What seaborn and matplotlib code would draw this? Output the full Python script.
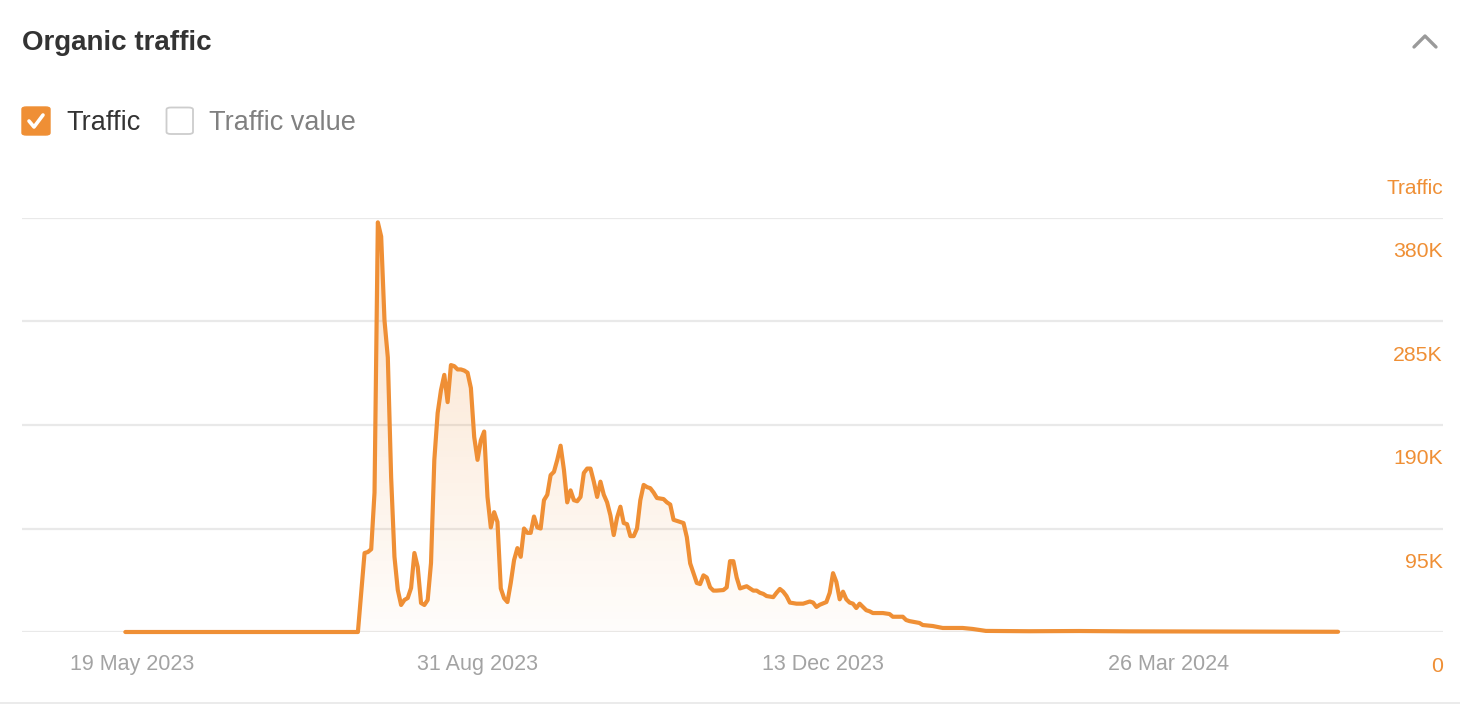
import numpy as np
import pandas as pd
import matplotlib
matplotlib.use("Agg")
import matplotlib.pyplot as plt
import matplotlib.dates as mdates
from matplotlib.patches import FancyBboxPatch
from matplotlib.lines import Line2D
from matplotlib.transforms import ScaledTranslation
import seaborn as sns

# --- data (traffic in thousands) ---
dates = [
    "2023-05-17", "2023-07-26", "2023-07-28", "2023-07-29", "2023-07-30", "2023-07-31",
    "2023-08-01", "2023-08-02", "2023-08-03", "2023-08-04", "2023-08-05", "2023-08-06",
    "2023-08-07", "2023-08-08", "2023-08-09", "2023-08-10", "2023-08-11", "2023-08-12",
    "2023-08-13", "2023-08-14", "2023-08-15", "2023-08-16", "2023-08-17", "2023-08-18",
    "2023-08-19", "2023-08-20", "2023-08-21", "2023-08-22", "2023-08-23", "2023-08-24",
    "2023-08-25", "2023-08-26", "2023-08-27", "2023-08-28", "2023-08-29", "2023-08-30",
    "2023-08-31", "2023-09-01", "2023-09-02", "2023-09-03", "2023-09-04", "2023-09-05",
    "2023-09-06", "2023-09-07", "2023-09-08", "2023-09-09", "2023-09-10", "2023-09-11",
    "2023-09-12", "2023-09-13", "2023-09-14", "2023-09-15", "2023-09-16", "2023-09-17",
    "2023-09-18", "2023-09-19", "2023-09-20", "2023-09-21", "2023-09-22", "2023-09-23",
    "2023-09-24", "2023-09-25", "2023-09-26", "2023-09-27", "2023-09-28", "2023-09-29",
    "2023-09-30", "2023-10-01", "2023-10-02", "2023-10-03", "2023-10-04", "2023-10-05",
    "2023-10-06", "2023-10-07", "2023-10-08", "2023-10-09", "2023-10-10", "2023-10-11",
    "2023-10-12", "2023-10-13", "2023-10-14", "2023-10-15", "2023-10-16", "2023-10-17",
    "2023-10-18", "2023-10-19", "2023-10-20", "2023-10-21", "2023-10-22", "2023-10-23",
    "2023-10-24", "2023-10-26", "2023-10-27", "2023-10-28", "2023-10-29", "2023-10-30",
    "2023-11-01", "2023-11-02", "2023-11-03", "2023-11-04", "2023-11-05", "2023-11-06",
    "2023-11-07", "2023-11-08", "2023-11-09", "2023-11-10", "2023-11-11", "2023-11-13",
    "2023-11-14", "2023-11-15", "2023-11-16", "2023-11-17", "2023-11-18", "2023-11-19",
    "2023-11-20", "2023-11-22", "2023-11-23", "2023-11-24", "2023-11-25", "2023-11-26",
    "2023-11-28", "2023-11-29", "2023-11-30", "2023-12-01", "2023-12-02", "2023-12-03",
    "2023-12-05", "2023-12-07", "2023-12-09", "2023-12-10", "2023-12-11", "2023-12-12",
    "2023-12-14", "2023-12-15", "2023-12-16", "2023-12-17", "2023-12-18", "2023-12-19",
    "2023-12-20", "2023-12-21", "2023-12-22", "2023-12-23", "2023-12-24", "2023-12-25",
    "2023-12-26", "2023-12-27", "2023-12-28", "2023-12-29", "2023-12-31", "2024-01-02",
    "2024-01-03", "2024-01-04", "2024-01-06", "2024-01-07", "2024-01-08", "2024-01-11",
    "2024-01-12", "2024-01-15", "2024-01-18", "2024-01-21", "2024-01-24", "2024-01-27",
    "2024-01-31", "2024-02-13", "2024-02-28", "2024-03-14", "2024-03-29", "2024-04-13",
    "2024-05-16",
]
traffic_k = [
    0, 0, 72.5, 73.4, 76, 128,
    376, 363, 286, 252, 142, 69,
    38.6, 24.8, 29.4, 31.2, 40.4, 72.5,
    59.7, 26.6, 24.8, 29.4, 63.3, 158,
    201, 222, 236, 211, 245, 244,
    241, 241, 240, 238, 224, 179,
    158, 176, 184, 124, 96, 110,
    101, 40, 31, 27.5, 45, 66,
    77, 69, 95, 91, 91, 106,
    96, 95, 121, 126, 144, 147,
    158, 171, 149, 119, 130, 121,
    120, 124, 146, 150, 150, 138,
    124, 138, 126, 119, 107, 89,
    105, 115, 100, 99, 88, 88,
    95, 121, 135, 133, 132, 128,
    123, 122, 119, 117, 103, 102,
    100, 87, 63, 54, 45, 44,
    52, 50, 41, 38, 38, 38.5,
    41, 65, 65, 50, 40, 41,
    42, 38, 38, 36, 35, 33,
    32, 36, 39.5, 37, 33, 27,
    26, 26, 28, 27, 23, 25,
    27.5, 36, 54, 46, 30, 37,
    30, 27, 26, 22, 26, 23,
    20, 19, 17.4, 17.4, 17.4, 16.5,
    14, 14, 14, 11, 10, 8.3,
    6.4, 5.5, 3.7, 3.7, 3.7, 2.8,
    1.0, 0.7, 0.9, 0.6, 0.5, 0.3,
    0.2,
]

tick_dates = ["2023-05-19", "2023-08-31", "2023-12-13", "2024-03-26"]
tick_labels = ["19 May 2023", "31 Aug 2023", "13 Dec 2023", "26 Mar 2024"]
y_ticks = [0, 95000, 190000, 285000, 380000]
y_labels = ["0", "95K", "190K", "285K", "380K"]

ORANGE = "#ef8f35"
GRID = "#e9e9e9"
W, H = 1460, 704

sns.set_style("white")
plt.rcParams["font.family"] = ["Liberation Sans", "DejaVu Sans"]

df = pd.DataFrame({"date": pd.to_datetime(dates), "traffic": np.array(traffic_k) * 1000})

fig = plt.figure(figsize=(W / 100, H / 100), dpi=100)


def px(x, y):
    # pixel position (from top-left) -> figure fraction
    return x / W, 1 - y / H


ax = fig.add_axes([22 / W, 1 - 632 / H, (1443 - 22) / W, (632 - 218) / H])

sns.lineplot(data=df, x="date", y="traffic", ax=ax, color=ORANGE, linewidth=3.0)
line = ax.get_lines()[0]
line.set_clip_on(False)
line.set_solid_joinstyle("round")
line.set_zorder(4)

# gradient area under the line
poly = ax.fill_between(df["date"], df["traffic"], 0, facecolor="none", edgecolor="none")
xmin = pd.Timestamp("2023-04-15 21:36")
xmax = pd.Timestamp("2024-06-16 14:00")
grad = np.zeros((256, 1, 4))
grad[:, 0, :3] = matplotlib.colors.to_rgb(ORANGE)
grad[:, 0, 3] = np.linspace(0.27, 0.02, 256)
img = ax.imshow(grad, aspect="auto", origin="upper",
                extent=[mdates.date2num(xmin), mdates.date2num(xmax), 0, 380000], zorder=2)
img.set_clip_path(poly.get_paths()[0], transform=ax.transData)

ax.set_xlim(xmin, xmax)
ax.set_ylim(0, 380000)

# axes styling
for s in ax.spines.values():
    s.set_visible(False)
ax.set_xlabel("")
ax.set_ylabel("")
ax.grid(axis="y", color=GRID, linewidth=1.6)
ax.grid(axis="x", visible=False)
ax.set_axisbelow(True)

ax.set_xticks(pd.to_datetime(tick_dates))
ax.set_xticklabels(tick_labels)
ax.tick_params(axis="x", length=0, pad=16, labelsize=15.5, labelcolor="#a3a3a3")

ax.yaxis.tick_right()
ax.set_yticks(y_ticks)
ax.set_yticklabels(y_labels)
ax.tick_params(axis="y", length=0, pad=0, labelsize=15.3, labelcolor=ORANGE)
shift = ScaledTranslation(0, -32 / 100, fig.dpi_scale_trans)
for lab in ax.get_yticklabels():
    lab.set_horizontalalignment("right")
    lab.set_transform(lab.get_transform() + shift)

ax.annotate("Traffic", xy=(1, 1), xycoords="axes fraction", xytext=(0, 30),
            textcoords="offset pixels", ha="right", va="center", color=ORANGE, fontsize=15)

# header
fig.text(*px(22, 43), "Organic traffic", ha="left", va="center", fontsize=20,
         fontweight="bold", color="#333333")

# checkboxes
box_on = FancyBboxPatch(px(22, 135), 28 / W, 28 / H, boxstyle="round,pad=0,rounding_size=0.003",
                        transform=fig.transFigure, facecolor=ORANGE, edgecolor=ORANGE)
fig.patches.append(box_on)
cx, cy = zip(px(29, 121), px(34, 127), px(43, 115))
fig.lines.append(Line2D(cx, cy, transform=fig.transFigure, color="white", linewidth=2.6,
                        solid_capstyle="round", solid_joinstyle="round"))
box_off = FancyBboxPatch(px(166.5, 134), 26.5 / W, 26.5 / H, boxstyle="round,pad=0,rounding_size=0.003",
                         transform=fig.transFigure, facecolor="white", edgecolor="#cdcdcd", linewidth=1.3)
fig.patches.append(box_off)
fig.text(*px(66, 123), "Traffic", ha="left", va="center", fontsize=19.5, color="#333333")
fig.text(*px(209, 123), "Traffic value", ha="left", va="center", fontsize=19.5, color="#808080")

# collapse chevron
chx, chy = zip(px(1414, 47), px(1425, 36), px(1436, 47))
fig.lines.append(Line2D(chx, chy, transform=fig.transFigure, color="#9a9a9a", linewidth=2.4,
                        solid_capstyle="round", solid_joinstyle="round"))

# bottom border
bx, by = zip(px(0, 702.5), px(W, 702.5))
fig.lines.append(Line2D(bx, by, transform=fig.transFigure, color="#e8e8e8", linewidth=1.2))

fig.savefig("out.png", dpi=100)
